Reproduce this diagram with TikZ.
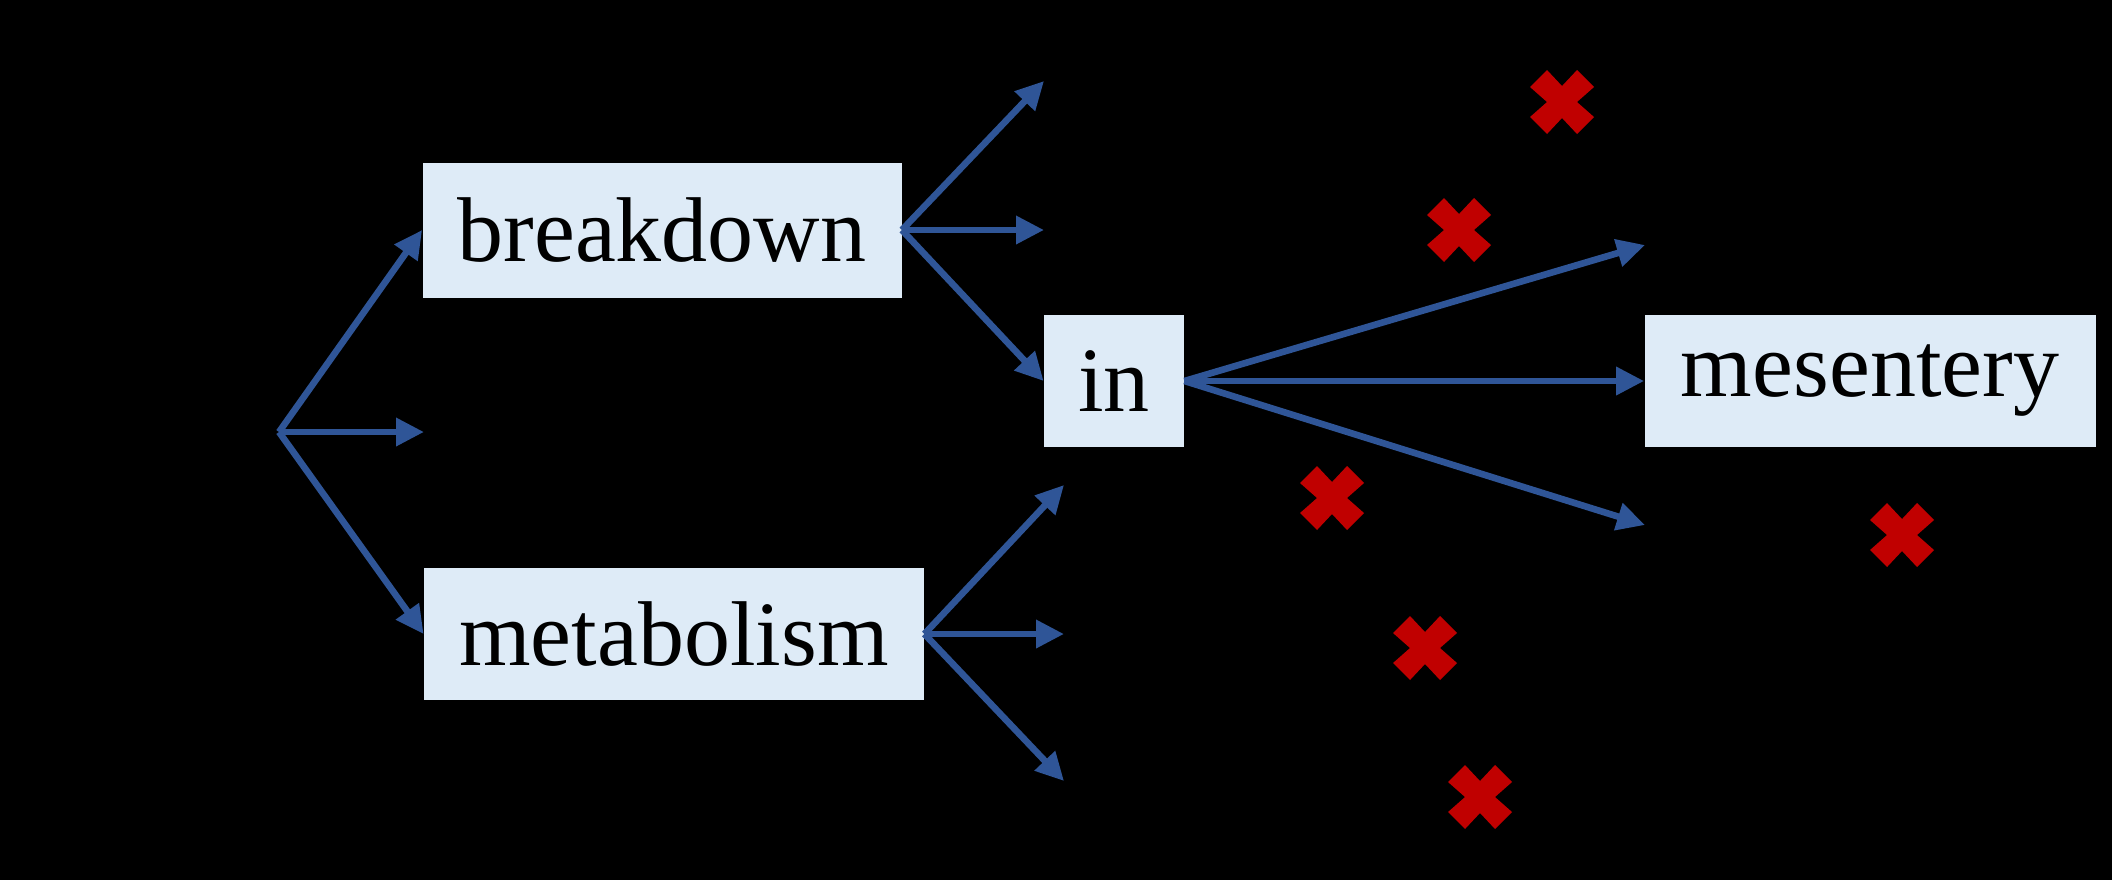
\documentclass[tikz,border=0pt]{standalone}
\usepackage{fontspec}
\setmainfont{Liberation Serif}
\usetikzlibrary{arrows.meta}
\definecolor{boxfill}{RGB}{222,235,247}
\definecolor{arrowblue}{RGB}{47,85,151}
\definecolor{xred}{RGB}{192,0,0}
\tikzset{
  box/.style={fill=boxfill, inner sep=0pt, font=\fontsize{46}{52}\selectfont, text=black},
  arr/.style={draw=arrowblue, line width=3.3pt, -{Triangle[length=14pt,width=13.5pt]}},
  redx/.pic={\fill[xred] (-32,15) -- (-15,32) -- (0,16) -- (15,32) -- (32,15) -- (15,0) -- (32,-15) -- (15,-32) -- (0,-16) -- (-15,-32) -- (-32,-15) -- (-15,0) -- cycle;}
}
\begin{document}
\begin{tikzpicture}[x=0.5pt,y=-0.5pt]
\fill[black] (0,0) rectangle (2112,880);
\useasboundingbox (0,0) rectangle (2112,880);

\node[box, minimum width=239.5pt, minimum height=67.5pt] (bd) at (662,230) {breakdown};
\node[box, minimum width=250pt, minimum height=66pt] (mb) at (674,634) {metabolism};
\node[box, minimum width=70pt, minimum height=66pt] (in) at (1114,381) {in};
\node[box, minimum width=225.5pt, minimum height=66pt] (ms) at (1870,381) {mesentery};

\coordinate (o) at (279,432);
\coordinate (o2) at (424,432);
\coordinate (b1) at (1044,81);
\coordinate (b2) at (1044,230);
\coordinate (m1) at (1064,485);
\coordinate (m2) at (1064,634);
\coordinate (m3) at (1064,781);
\coordinate (i1) at (1645,245);
\coordinate (i3) at (1645,525);

\draw[arr] (o) -- (bd.west);
\draw[arr] (o) -- (o2);
\draw[arr] (o) -- (mb.west);

\draw[arr] (bd.east) -- (b1);
\draw[arr] (bd.east) -- (b2);
\draw[arr] (bd.east) -- (in.west);

\draw[arr] (mb.east) -- (m1);
\draw[arr] (mb.east) -- (m2);
\draw[arr] (mb.east) -- (m3);

\draw[arr] (in.east) -- (i1);
\draw[arr] (in.east) -- (ms.west);
\draw[arr] (in.east) -- (i3);

\pic at (1562,102) {redx};
\pic at (1459,230) {redx};
\pic at (1332,498) {redx};
\pic at (1425,648) {redx};
\pic at (1480,797) {redx};
\pic at (1902,535) {redx};
\end{tikzpicture}
\end{document}
